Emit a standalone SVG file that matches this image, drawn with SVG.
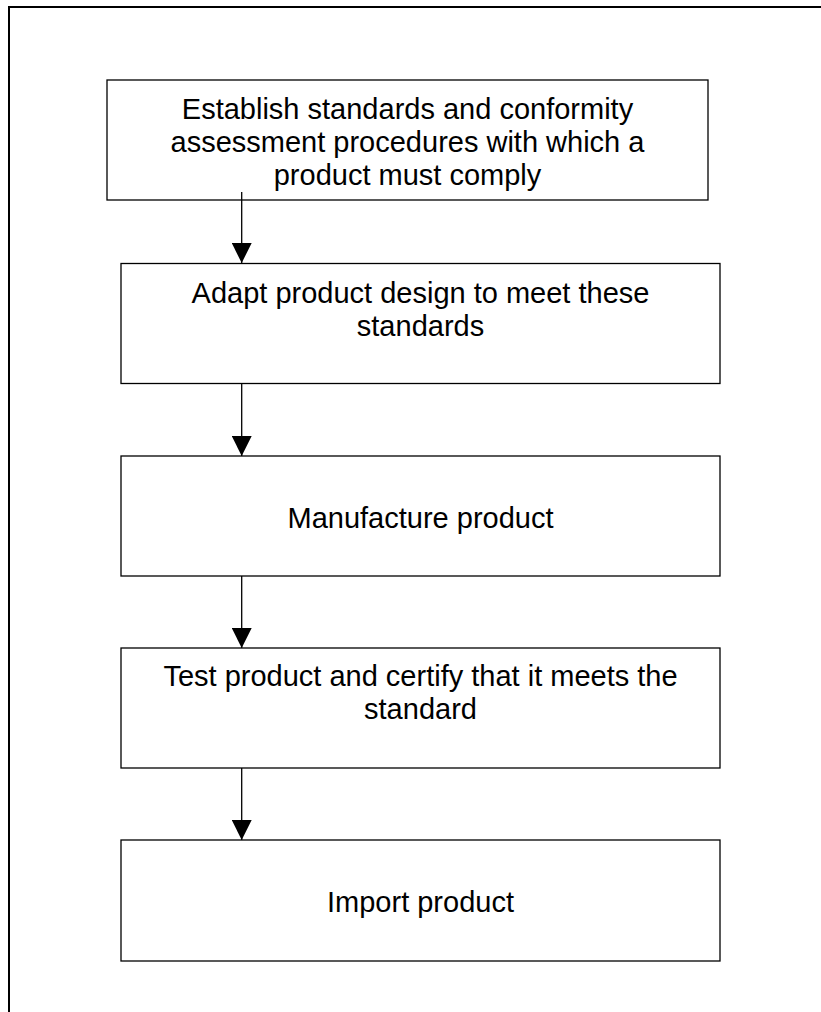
<svg xmlns="http://www.w3.org/2000/svg" width="821" height="1012" viewBox="0 0 821 1012">
<style>
.frame{fill:none;stroke:#000;stroke-width:2}
.box{fill:#fff;stroke:#000;stroke-width:1.3}
.lbl{font-family:"Liberation Sans",Arial,sans-serif;font-size:29px;fill:#000;text-anchor:middle}
.conn{stroke:#000;stroke-width:1.3;fill:none}
</style>
<defs>
<marker id="ah" markerWidth="20" markerHeight="20" refX="20" refY="10" orient="auto" markerUnits="userSpaceOnUse">
<path d="M0,0 L20,10 L0,20 Z" fill="#000"/>
</marker>
</defs>
<path class="frame" d="M9,1012 V7 H821"/>
<g id="n1">
<rect class="box" x="107" y="80" width="601" height="120"/>
<text class="lbl" x="407.5" y="119">Establish standards and conformity</text>
<text class="lbl" x="407.5" y="152">assessment procedures with which a</text>
<text class="lbl" x="407.5" y="185">product must comply</text>
</g>
<g id="n2">
<rect class="box" x="121" y="263.5" width="599" height="120"/>
<text class="lbl" x="420.5" y="303">Adapt product design to meet these</text>
<text class="lbl" x="420.5" y="336">standards</text>
</g>
<g id="n3">
<rect class="box" x="121" y="456" width="599" height="120"/>
<text class="lbl" x="420.5" y="528">Manufacture product</text>
</g>
<g id="n4">
<rect class="box" x="121" y="648" width="599" height="120"/>
<text class="lbl" x="420.5" y="686">Test product and certify that it meets the</text>
<text class="lbl" x="420.5" y="719">standard</text>
</g>
<g id="n5">
<rect class="box" x="121" y="840" width="599" height="121"/>
<text class="lbl" x="420.5" y="912">Import product</text>
</g>
<g id="connectors">
<line class="conn" x1="241.7" y1="192" x2="241.7" y2="263" marker-end="url(#ah)"/>
<line class="conn" x1="241.7" y1="383" x2="241.7" y2="456" marker-end="url(#ah)"/>
<line class="conn" x1="241.7" y1="576" x2="241.7" y2="648" marker-end="url(#ah)"/>
<line class="conn" x1="241.7" y1="768" x2="241.7" y2="840" marker-end="url(#ah)"/>
</g>
</svg>
